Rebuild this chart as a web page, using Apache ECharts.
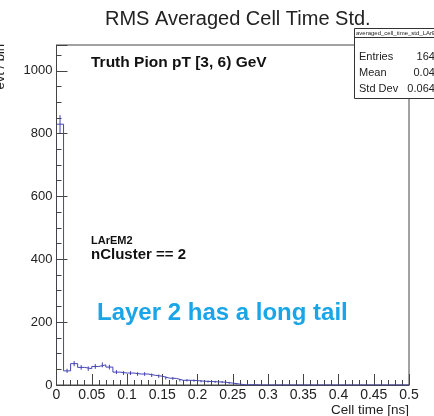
<!DOCTYPE html>
<html>
<head>
<meta charset="utf-8">
<script src="https://cdn.jsdelivr.net/npm/echarts@6/dist/echarts.min.js"></script>
<style>
html,body{margin:0;padding:0;background:#fff;}
#chart{width:434px;height:416px;}
</style>
</head>
<body>
<div id="chart"></div>
<script>
// ---- data ----
const titleText = 'RMS Averaged Cell Time Std.';
const xTitle = 'Cell time [ns]';
const yTitle = 'evt / bin';
const histMin = 0, histMax = 0.5, nBins = 50;
const counts = [830, 45, 68, 56, 52, 59, 64, 57, 41, 38,
                38, 35, 35, 31, 28, 22, 21, 15, 15, 14,
                12, 11, 10, 9, 6, 3, 0, 1, 0, 0,
                0, 0, 0, 0, 0, 0, 0, 0, 0, 0,
                0, 0, 0, 0, 0, 0, 0, 0, 0, 0];
const xTicks = [0, 0.05, 0.1, 0.15, 0.2, 0.25, 0.3, 0.35, 0.4, 0.45, 0.5];
const yTicks = [0, 200, 400, 600, 800, 1000];
const statsName = 'averaged_cell_time_std_LArEM2';
const statsLabels = ['Entries', 'Mean', 'Std Dev'];
const statsValues = ['1647', '0.047', '0.0645'];
const annot1 = 'Truth Pion pT [3, 6) GeV';
const annot2 = 'LArEM2';
const annot3 = 'nCluster == 2';
const annot4 = 'Layer 2 has a long tail';

// ---- build ----
const FONT = 'Liberation Sans, Arial, Helvetica, sans-serif';
const HCOL = '#4444b0';
const bw = (histMax - histMin) / nBins;
const stepData = counts.map((c, i) => [histMin + i * bw, c]);
stepData.push([histMax, counts[counts.length - 1]]);
const errData = [];
counts.forEach((c, i) => { if (c > 0) errData.push([histMin + (i + 0.5) * bw, c, Math.sqrt(c)]); });

const chart = echarts.init(document.getElementById('chart'), null, {renderer: 'canvas'});
const option = {
  animation: false,
  backgroundColor: '#fff',
  title: {
    text: titleText, left: 100, top: 4,
    textStyle: {fontFamily: FONT, fontSize: 20, fontWeight: 'normal', color: '#222'}
  },
  grid: {left: 56.5, right: 25, top: 45, bottom: 31, show: true, borderColor: '#444', borderWidth: 1, backgroundColor: 'transparent'},
  xAxis: {
    type: 'value', min: xTicks[0], max: xTicks[xTicks.length - 1], interval: xTicks[1] - xTicks[0],
    axisLine: {show: true, lineStyle: {color: '#444'}},
    axisTick: {show: true, inside: true, length: 11, lineStyle: {color: '#444'}},
    minorTick: {show: true, splitNumber: 5, length: 5, lineStyle: {color: '#444'}},
    splitLine: {show: false},
    axisLabel: {fontFamily: FONT, fontSize: 14, color: '#222', margin: 3,
      formatter: v => String(Math.round(v * 100) / 100)}
  },
  yAxis: {
    type: 'value', min: yTicks[0], max: 1082, interval: yTicks[1] - yTicks[0],
    axisLine: {show: true, lineStyle: {color: '#444'}},
    axisTick: {show: true, inside: true, length: 11, lineStyle: {color: '#444'}},
    minorTick: {show: true, splitNumber: 4, length: 5, lineStyle: {color: '#444'}},
    splitLine: {show: false},
    axisLabel: {fontFamily: FONT, fontSize: 13, color: '#222', margin: 4, showMaxLabel: false,
      formatter: v => (yTicks.indexOf(v) >= 0 ? String(v) : '')}
  },
  series: [
    {
      type: 'line', data: stepData, step: 'end', symbol: 'none',
      lineStyle: {color: HCOL, width: 1}, z: 3
    },
    {
      type: 'custom', data: errData, z: 4,
      renderItem: function (params, api) {
        const x = api.value(0), y = api.value(1), e = api.value(2);
        const p1 = api.coord([x, y - e]);
        const p2 = api.coord([x, y + e]);
        return {type: 'line', shape: {x1: p1[0], y1: p1[1], x2: p2[0], y2: p2[1]},
          style: {stroke: HCOL, lineWidth: 1}};
      }
    }
  ],
  graphic: [
    {type: 'text', x: 0, y: 44, rotation: Math.PI / 2,
      style: {text: yTitle, font: '13px ' + FONT, fill: '#222', align: 'right', verticalAlign: 'middle'}},
    {type: 'text', x: 409, y: 410,
      style: {text: xTitle, font: '13.5px ' + FONT, fill: '#222', align: 'right', verticalAlign: 'middle'}},
    {type: 'text', x: 91, y: 63,
      style: {text: annot1, font: 'bold 15.5px ' + FONT, fill: '#111', align: 'left', verticalAlign: 'middle'}},
    {type: 'text', x: 91, y: 241,
      style: {text: annot2, font: 'bold 11px ' + FONT, fill: '#111', align: 'left', verticalAlign: 'middle'}},
    {type: 'text', x: 91, y: 255,
      style: {text: annot3, font: 'bold 15px ' + FONT, fill: '#111', align: 'left', verticalAlign: 'middle'}},
    {type: 'text', x: 97, y: 313,
      style: {text: annot4, font: 'bold 24px ' + FONT, fill: '#1aa5e8', align: 'left', verticalAlign: 'middle'}},
    {type: 'rect', shape: {x: 354.5, y: 28.5, width: 120, height: 70}, z: 10,
      style: {fill: '#fff', stroke: '#333', lineWidth: 1}},
    {type: 'line', shape: {x1: 354.5, y1: 37.5, x2: 476, y2: 37.5}, z: 11,
      style: {stroke: '#333', lineWidth: 1}},
    {type: 'text', x: 356, y: 33, z: 11,
      style: {text: statsName, font: '6px ' + FONT, fill: '#222', align: 'left', verticalAlign: 'middle'}},
    {type: 'text', x: 359, y: 57, z: 11,
      style: {text: statsLabels[0], font: '11px ' + FONT, fill: '#222', align: 'left', verticalAlign: 'middle'}},
    {type: 'text', x: 359, y: 73, z: 11,
      style: {text: statsLabels[1], font: '11px ' + FONT, fill: '#222', align: 'left', verticalAlign: 'middle'}},
    {type: 'text', x: 359, y: 88.5, z: 11,
      style: {text: statsLabels[2], font: '11px ' + FONT, fill: '#222', align: 'left', verticalAlign: 'middle'}},
    {type: 'text', x: 441, y: 57, z: 11,
      style: {text: statsValues[0], font: '11px ' + FONT, fill: '#222', align: 'right', verticalAlign: 'middle'}},
    {type: 'text', x: 441, y: 73, z: 11,
      style: {text: statsValues[1], font: '11px ' + FONT, fill: '#222', align: 'right', verticalAlign: 'middle'}},
    {type: 'text', x: 441, y: 88.5, z: 11,
      style: {text: statsValues[2], font: '11px ' + FONT, fill: '#222', align: 'right', verticalAlign: 'middle'}}
  ]
};
chart.setOption(option);
</script>
</body>
</html>
